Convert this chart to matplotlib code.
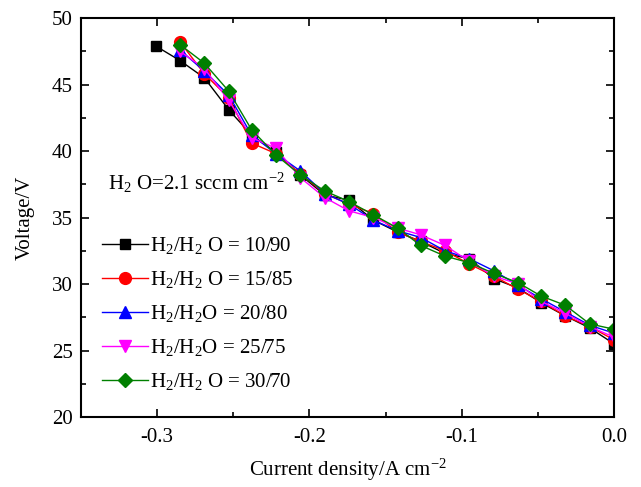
import numpy as np
import matplotlib
matplotlib.use('Agg')
import matplotlib.pyplot as plt
from matplotlib.ticker import MultipleLocator

# Data
x_common = [-0.285, -0.269, -0.253, -0.238, -0.222, -0.206, -0.190, -0.174, -0.158, -0.142,
            -0.127, -0.111, -0.095, -0.079, -0.063, -0.048, -0.032, -0.016, 0.0]
x_black = [-0.301] + x_common

v_10_90 = [47.9, 46.8, 45.5, 43.1, 41.2, 39.9, 38.2, 36.7, 36.3, 34.8, 33.9,
           33.2, 32.3, 31.9, 30.4, 29.7, 28.6, 27.6, 26.7, 25.5]
v_15_85 = [48.2, 45.8, 44.0, 40.6, 39.8, 38.3, 36.8, 36.0, 35.3, 33.9,
           33.2, 32.5, 31.5, 30.6, 29.6, 28.7, 27.6, 26.8, 25.8]
v_20_80 = [47.6, 46.0, 44.2, 41.2, 39.8, 38.5, 36.8, 36.0, 34.8, 34.0,
           33.5, 32.5, 31.9, 31.0, 29.9, 28.9, 27.9, 26.9, 26.3]
v_25_75 = [47.5, 46.2, 43.8, 41.0, 40.2, 38.0, 36.5, 35.5, 35.0, 34.2,
           33.7, 32.9, 31.7, 30.6, 30.0, 28.7, 27.8, 26.8, 26.0]
v_30_70 = [48.0, 46.6, 44.5, 41.6, 39.7, 38.2, 37.0, 36.2, 35.2, 34.2,
           32.9, 32.1, 31.6, 30.8, 30.1, 29.1, 28.4, 27.0, 26.6]

labels = ['H$_2$/H$_2$ O = 10/90', 'H$_2$/H$_2$ O = 15/85', 'H$_2$/H$_2$O = 20/80',
          'H$_2$/H$_2$O = 25/75', 'H$_2$/H$_2$ O = 30/70']

plt.rcParams['font.family'] = 'serif'
plt.rcParams['font.serif'] = ['Liberation Serif', 'DejaVu Serif']
plt.rcParams['mathtext.fontset'] = 'custom'
plt.rcParams['mathtext.rm'] = 'Liberation Serif'
plt.rcParams['mathtext.it'] = 'Liberation Serif:italic'
plt.rcParams['mathtext.default'] = 'regular'

fig = plt.figure(figsize=(6.41, 4.87), dpi=100)
ax = fig.add_axes([0.1264, 0.1437, 0.8316, 0.8193])

styles = [
    (x_black, v_10_90, 'black', 's', 7.5),
    (x_common, v_15_85, 'red', 'o', 8.5),
    (x_common, v_20_80, 'blue', '^', 8),
    (x_common, v_25_75, 'magenta', 'v', 8),
    (x_common, v_30_70, 'green', 'D', 7),
]
for (xs, ys, c, m, ms), lab in zip(styles, labels):
    ax.plot(xs, ys, color=c, marker=m, markersize=ms, linewidth=1.0,
            markeredgecolor=c, markerfacecolor=c if c != 'green' else '#007f00',
            label=lab)

ax.set_xlim(-0.35, 0.0)
ax.set_ylim(20, 50)
ax.xaxis.set_minor_locator(MultipleLocator(0.05))
ax.yaxis.set_major_locator(MultipleLocator(5))
ax.yaxis.set_minor_locator(MultipleLocator(2.5))
ax.set_xticks([-0.3, -0.2, -0.1, 0.0])
ax.set_xticklabels(['-0.3', '-0.2', '-0.1', '0.0'])

ax.tick_params(which='both', direction='in', top=True, right=True, labelsize=15)
ax.tick_params(which='major', length=6, width=1.2)
ax.tick_params(which='minor', length=3.5, width=1.2)
ax.tick_params(axis='x', pad=8)
ax.tick_params(axis='y', pad=6)
for sp in ax.spines.values():
    sp.set_linewidth(1.5)

ax.set_xlabel('Current density/A cm$^{-2}$', fontsize=15, labelpad=7)
ax.set_ylabel('Voltage/V', fontsize=15, labelpad=12)

ax.text(0.05, 0.586, 'H$_2$ O=2.1 sccm cm$^{-2}$', transform=ax.transAxes,
        fontsize=15, va='center')

ax.legend(loc='center left', bbox_to_anchor=(0.039, 0.259), frameon=False, fontsize=15,
          handlelength=2.2, labelspacing=0.62, handletextpad=0.1,
          borderaxespad=0, borderpad=0)

fig.savefig('out.png', dpi=100)
